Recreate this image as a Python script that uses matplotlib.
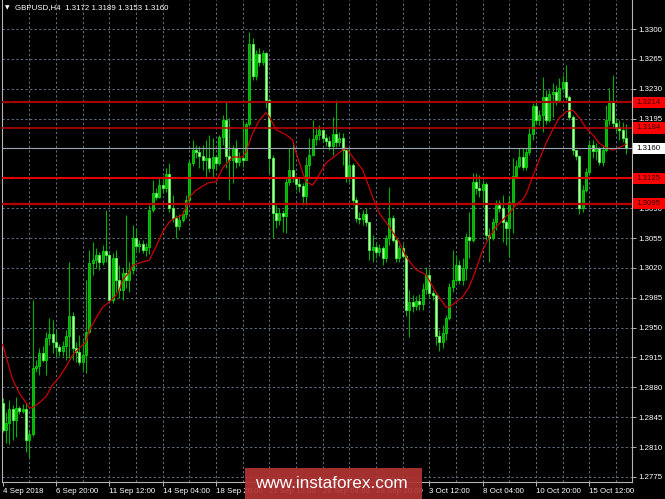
import matplotlib
matplotlib.use("Agg")
import matplotlib.pyplot as plt
from matplotlib.patches import Rectangle

# GBPUSD H4 candles, 4 Sep - 17 Oct 2018
first_open = 1.2862
highs = [1.2868, 1.2851, 1.2865, 1.2859, 1.2869, 1.2858, 1.2861, 1.2862, 1.2830, 1.2982,
         1.2912, 1.2926, 1.2929, 1.2945, 1.2961, 1.2959, 1.2947, 1.2931, 1.2934, 1.2947,
         1.3027, 1.2968, 1.2933, 1.2941, 1.2936, 1.3006, 1.3041, 1.3050, 1.3043, 1.3039,
         1.3047, 1.3088, 1.3038, 1.3038, 1.3041, 1.3023, 1.3020, 1.3082, 1.3027, 1.3070,
         1.3067, 1.3053, 1.3053, 1.3049, 1.3094, 1.3123, 1.3114, 1.3125, 1.3128, 1.3137,
         1.3143, 1.3106, 1.3082, 1.3083, 1.3088, 1.3106, 1.3147, 1.3170, 1.3164, 1.3163,
         1.3164, 1.3170, 1.3176, 1.3172, 1.3152, 1.3176, 1.3199, 1.3214, 1.3196, 1.3164,
         1.3170, 1.3156, 1.3193, 1.3191, 1.3296, 1.3289, 1.3275, 1.3278, 1.3275, 1.3273,
         1.3219, 1.3152, 1.3094, 1.3090, 1.3088, 1.3125, 1.3161, 1.3166, 1.3128, 1.3125,
         1.3120, 1.3150, 1.3172, 1.3193, 1.3184, 1.3188, 1.3182, 1.3177, 1.3175, 1.3197,
         1.3217, 1.3179, 1.3178, 1.3158, 1.3161, 1.3143, 1.3103, 1.3085, 1.3088, 1.3090,
         1.3074, 1.3059, 1.3049, 1.3048, 1.3046, 1.3059, 1.3115, 1.3082, 1.3055, 1.3047,
         1.3048, 1.3036, 1.2994, 1.2988, 1.2987, 1.2989, 1.3002, 1.3021, 1.3018, 1.2994,
         1.2989, 1.2947, 1.2953, 1.2965, 1.3002, 1.3041, 1.3035, 1.3029, 1.3032, 1.3061,
         1.3086, 1.3131, 1.3131, 1.3129, 1.3123, 1.3121, 1.3067, 1.3078, 1.3100, 1.3100,
         1.3106, 1.3076, 1.3106, 1.3149, 1.3146, 1.3161, 1.3161, 1.3161, 1.3184, 1.3213,
         1.3214, 1.3205, 1.3244, 1.3229, 1.3229, 1.3237, 1.3234, 1.3243, 1.3246, 1.3258,
         1.3223, 1.3199, 1.3158, 1.3152, 1.3117, 1.3137, 1.3170, 1.3170, 1.3166, 1.3162,
         1.3164, 1.3211, 1.3231, 1.3246, 1.3196, 1.3193, 1.3191, 1.3189]
lows = [1.2828, 1.2815, 1.2813, 1.2818, 1.2822, 1.2849, 1.2850, 1.2804, 1.2797, 1.2823,
        1.2898, 1.2895, 1.2910, 1.2895, 1.2930, 1.2920, 1.2916, 1.2917, 1.2917, 1.2912,
        1.2914, 1.2912, 1.2910, 1.2906, 1.2900, 1.2897, 1.2944, 1.3012, 1.3020, 1.3018,
        1.3023, 1.3027, 1.2980, 1.2979, 1.2992, 1.2985, 1.2982, 1.2996, 1.2992, 1.3013,
        1.3041, 1.3039, 1.3038, 1.3034, 1.3036, 1.3086, 1.3100, 1.3102, 1.3108, 1.3109,
        1.3086, 1.3074, 1.3055, 1.3064, 1.3074, 1.3078, 1.3096, 1.3139, 1.3149, 1.3137,
        1.3135, 1.3127, 1.3132, 1.3125, 1.3135, 1.3141, 1.3164, 1.3137, 1.3100, 1.3120,
        1.3137, 1.3139, 1.3138, 1.3147, 1.3186, 1.3240, 1.3240, 1.3257, 1.3258, 1.3207,
        1.3131, 1.3055, 1.3067, 1.3070, 1.3062, 1.3061, 1.3117, 1.3121, 1.3111, 1.3109,
        1.3094, 1.3094, 1.3127, 1.3151, 1.3164, 1.3170, 1.3168, 1.3163, 1.3158, 1.3152,
        1.3162, 1.3163, 1.3141, 1.3121, 1.3121, 1.3094, 1.3074, 1.3071, 1.3070, 1.3069,
        1.3029, 1.3027, 1.3032, 1.3034, 1.3023, 1.3027, 1.3047, 1.3050, 1.3027, 1.3027,
        1.3032, 1.2964, 1.2939, 1.2968, 1.2971, 1.2971, 1.2971, 1.2989, 1.2985, 1.2982,
        1.2930, 1.2923, 1.2926, 1.2936, 1.2959, 1.2992, 1.3004, 1.3001, 1.3000, 1.3006,
        1.3032, 1.3050, 1.3107, 1.3103, 1.3094, 1.3053, 1.3027, 1.3053, 1.3064, 1.3086,
        1.3050, 1.3047, 1.3033, 1.3061, 1.3125, 1.3137, 1.3135, 1.3135, 1.3152, 1.3170,
        1.3189, 1.3188, 1.3179, 1.3189, 1.3191, 1.3197, 1.3211, 1.3214, 1.3229, 1.3217,
        1.3193, 1.3152, 1.3146, 1.3083, 1.3085, 1.3109, 1.3129, 1.3149, 1.3146, 1.3141,
        1.3140, 1.3156, 1.3188, 1.3185, 1.3178, 1.3170, 1.3168, 1.3153]
closes = [1.2830, 1.2838, 1.2854, 1.2842, 1.2856, 1.2852, 1.2855, 1.2818, 1.2825, 1.2903,
          1.2905, 1.2920, 1.2912, 1.2938, 1.2943, 1.2933, 1.2927, 1.2923, 1.2929, 1.2940,
          1.2964, 1.2926, 1.2921, 1.2910, 1.2918, 1.2945, 1.3026, 1.3029, 1.3035, 1.3027,
          1.3040, 1.3035, 1.2982, 1.3032, 1.3006, 1.2994, 1.3014, 1.3006, 1.3018, 1.3055,
          1.3046, 1.3048, 1.3041, 1.3045, 1.3088, 1.3108, 1.3103, 1.3117, 1.3114, 1.3130,
          1.3090, 1.3078, 1.3069, 1.3076, 1.3083, 1.3100, 1.3143, 1.3158, 1.3156, 1.3151,
          1.3147, 1.3149, 1.3137, 1.3150, 1.3143, 1.3173, 1.3193, 1.3151, 1.3147, 1.3161,
          1.3144, 1.3149, 1.3147, 1.3189, 1.3282, 1.3245, 1.3271, 1.3261, 1.3272, 1.3217,
          1.3149, 1.3084, 1.3076, 1.3084, 1.3081, 1.3121, 1.3135, 1.3125, 1.3118, 1.3116,
          1.3104, 1.3141, 1.3152, 1.3171, 1.3176, 1.3182, 1.3172, 1.3169, 1.3163, 1.3177,
          1.3168, 1.3172, 1.3158, 1.3125, 1.3141, 1.3100, 1.3078, 1.3077, 1.3083, 1.3074,
          1.3041, 1.3045, 1.3039, 1.3043, 1.3032, 1.3055, 1.3079, 1.3053, 1.3032, 1.3043,
          1.3034, 1.2971, 1.2980, 1.2975, 1.2981, 1.2978, 1.2995, 1.3012, 1.2991, 1.2988,
          1.2940, 1.2933, 1.2944, 1.2961, 1.2998, 1.3006, 1.3023, 1.3006, 1.3020, 1.3056,
          1.3053, 1.3121, 1.3114, 1.3111, 1.3118, 1.3059, 1.3055, 1.3074, 1.3094, 1.3090,
          1.3074, 1.3067, 1.3097, 1.3128, 1.3139, 1.3150, 1.3138, 1.3156, 1.3177, 1.3210,
          1.3193, 1.3199, 1.3220, 1.3193, 1.3224, 1.3226, 1.3217, 1.3231, 1.3238, 1.3220,
          1.3197, 1.3158, 1.3151, 1.3090, 1.3111, 1.3132, 1.3164, 1.3157, 1.3161, 1.3144,
          1.3158, 1.3193, 1.3214, 1.3190, 1.3184, 1.3182, 1.3172, 1.3160]
opens = [first_open] + closes[:-1]

# red moving average, read at sample bars
ma_bars = [0, 3, 5, 7, 8, 9, 11, 13, 15, 17, 19, 21, 23, 25, 26, 28, 30, 32, 34, 35,
           36, 38, 39, 42, 44, 46, 48, 50, 52, 54, 55, 56, 58, 60, 62, 64, 66, 69, 72, 73,
           75, 77, 79, 80, 82, 85, 87, 88, 90, 91, 93, 94, 97, 100, 103, 105, 108, 111, 113, 116,
           119, 121, 124, 127, 130, 133, 134, 136, 138, 140, 142, 144, 146, 148, 150, 152, 154, 156, 157, 159,
           161, 163, 165, 167, 169, 171, 173, 175, 177, 179, 181, 183, 185, 187]
ma_vals = [1.2930, 1.2889, 1.2873, 1.2862, 1.2856, 1.2856, 1.2862, 1.2869, 1.2883, 1.2892,
           1.2904, 1.2918, 1.2926, 1.2933, 1.2947, 1.2961, 1.2974, 1.2980, 1.2988, 1.2994,
           1.3006, 1.3015, 1.3023, 1.3027, 1.3029, 1.3045, 1.3062, 1.3074, 1.3079, 1.3082,
           1.3091, 1.3103, 1.3111, 1.3116, 1.3120, 1.3121, 1.3137, 1.3150, 1.3150, 1.3156,
           1.3178, 1.3193, 1.3202, 1.3197, 1.3182, 1.3176, 1.3170, 1.3155, 1.3132, 1.3121,
           1.3117, 1.3123, 1.3143, 1.3152, 1.3161, 1.3150, 1.3135, 1.3103, 1.3084, 1.3068,
           1.3050, 1.3033, 1.3018, 1.3012, 1.2991, 1.2974, 1.2974, 1.2980, 1.2986, 1.2998,
           1.3018, 1.3041, 1.3056, 1.3068, 1.3076, 1.3084, 1.3094, 1.3100, 1.3106, 1.3127,
           1.3147, 1.3166, 1.3182, 1.3196, 1.3203, 1.3205, 1.3196, 1.3184, 1.3176, 1.3166,
           1.3161, 1.3158, 1.3161, 1.3165]

levels = [1.3214, 1.3184, 1.3125, 1.3095]
level_colors = ['#a80000', '#c80000', '#e00000', '#b80000']
level_widths = [1.5, 1.1, 1.5, 1.6]
last_price = 1.3160

price_ticks = [1.2775, 1.2810, 1.2845, 1.2880, 1.2915, 1.2950, 1.2985, 1.3020,
               1.3055, 1.3090, 1.3125, 1.3160, 1.3195, 1.3230, 1.3265, 1.3300]
# these two labels sit fully under the price boxes on the reference
covered_ticks = [1.3125, 1.3160]
date_bars = [0, 16, 32, 48, 64, 80, 96, 112, 128, 144, 160, 176]
date_labels = ['4 Sep 2018', '6 Sep 20:00', '11 Sep 12:00', '14 Sep 04:00', '18 Sep 20:00',
               '21 Sep 12:00', '26 Sep 04:00', '28 Sep 20:00', '3 Oct 12:00', '8 Oct 04:00',
               '10 Oct 20:00', '15 Oct 12:00']

FONT = 'Liberation Sans'
FS = 5.7
grid_col = '#5c6b7c'
frame_col = '#b4b4b4'

fig = plt.figure(figsize=(6.65, 4.99), dpi=100, facecolor='black')
ax = fig.add_axes([2 / 665, 17 / 499, 630 / 665, 482 / 499])
ax.set_facecolor('black')
ax.set_xlim(-0.2, 188.8)
ax.set_ylim(1.2769, 1.3334)

# grid
for p in price_ticks:
    ax.axhline(p, color=grid_col, lw=0.75, dashes=(2.2, 2.2), zorder=0.5)
for b in range(8, 189, 8):
    ax.axvline(b, color=grid_col, lw=0.75, dashes=(2.2, 2.2), zorder=0.5)

# candles
xs = list(range(len(closes)))
ax.vlines(xs, lows, highs, color='#00b000', lw=0.8, zorder=2)
bull = [c >= o for o, c in zip(opens, closes)]
bottoms = [min(o, c) for o, c in zip(opens, closes)]
heights = [abs(c - o) for o, c in zip(opens, closes)]
ax.bar(xs, heights, bottom=bottoms, width=0.68,
       color=['#12a612' if u else '#c9ffb9' for u in bull],
       edgecolor=['#00d800' if u else '#3cff3c' for u in bull],
       linewidth=0.6, zorder=3)

# moving average
ax.plot(ma_bars, ma_vals, color='#cc0000', lw=0.9, zorder=4)

# horizontal levels
for lv, col, w in zip(levels, level_colors, level_widths):
    ax.axhline(lv, color=col, lw=w, zorder=5)
ax.axhline(last_price, color='#9aa4b4', lw=0.8, zorder=5)

# axes styling
for side in ['left', 'right', 'bottom']:
    ax.spines[side].set_color(frame_col)
    ax.spines[side].set_linewidth(0.8)
ax.spines['top'].set_visible(False)

ax.yaxis.tick_right()
ax.set_yticks(price_ticks)
ax.set_yticklabels(['' if p in covered_ticks else f'{p:.4f}' for p in price_ticks],
                   fontsize=FS, family=FONT, color='white')
ax.set_xticks(date_bars)
ax.set_xticklabels(date_labels, fontsize=FS, family=FONT, color='white', ha='left')
ax.tick_params(axis='y', colors=frame_col, length=3, width=0.7, pad=1.5, labelcolor='white')
ax.tick_params(axis='x', colors=frame_col, length=3, width=0.7, pad=1.5, labelcolor='white')

# price label boxes on the right axis
ytr = ax.get_yaxis_transform()
box_h = 0.0013
for lv in levels:
    ax.add_patch(Rectangle((1.0015, lv - box_h / 2), 0.0525, box_h, transform=ytr,
                           facecolor='#ff0000', edgecolor='none', clip_on=False, zorder=10))
    ax.text(1.0068, lv, f'{lv:.4f}', transform=ytr, fontsize=FS, family=FONT,
            color='#3a0000', va='center', ha='left', clip_on=False, zorder=11)
ax.add_patch(Rectangle((1.0015, last_price - box_h / 2), 0.0525, box_h, transform=ytr,
                       facecolor='white', edgecolor='none', clip_on=False, zorder=10))
ax.text(1.0068, last_price, f'{last_price:.4f}', transform=ytr, fontsize=FS, family=FONT,
        color='black', va='center', ha='left', clip_on=False, zorder=11)

# title
fig.text(5 / 665, 1 - 8 / 499, '\u25bc', fontsize=4.2, color='white', va='center',
         family='DejaVu Sans')
fig.text(15 / 665, 1 - 8 / 499,
         f'GBPUSD,H4  {opens[-1]:.4f} {highs[-1]:.4f} {lows[-1]:.4f} {closes[-1]:.4f}',
         fontsize=FS, family=FONT, color='white', va='center')

# watermark
fig.add_artist(Rectangle((245 / 665, 0), 177 / 665, 31 / 499, transform=fig.transFigure,
                         facecolor='#b23434', alpha=0.92, edgecolor='none'))
fig.text(331 / 665, 1 - 484 / 499, 'www.instaforex.com', fontsize=12.3, family=FONT,
         color='white', ha='center', va='center')

fig.savefig('out.png', dpi=100, facecolor='black')
